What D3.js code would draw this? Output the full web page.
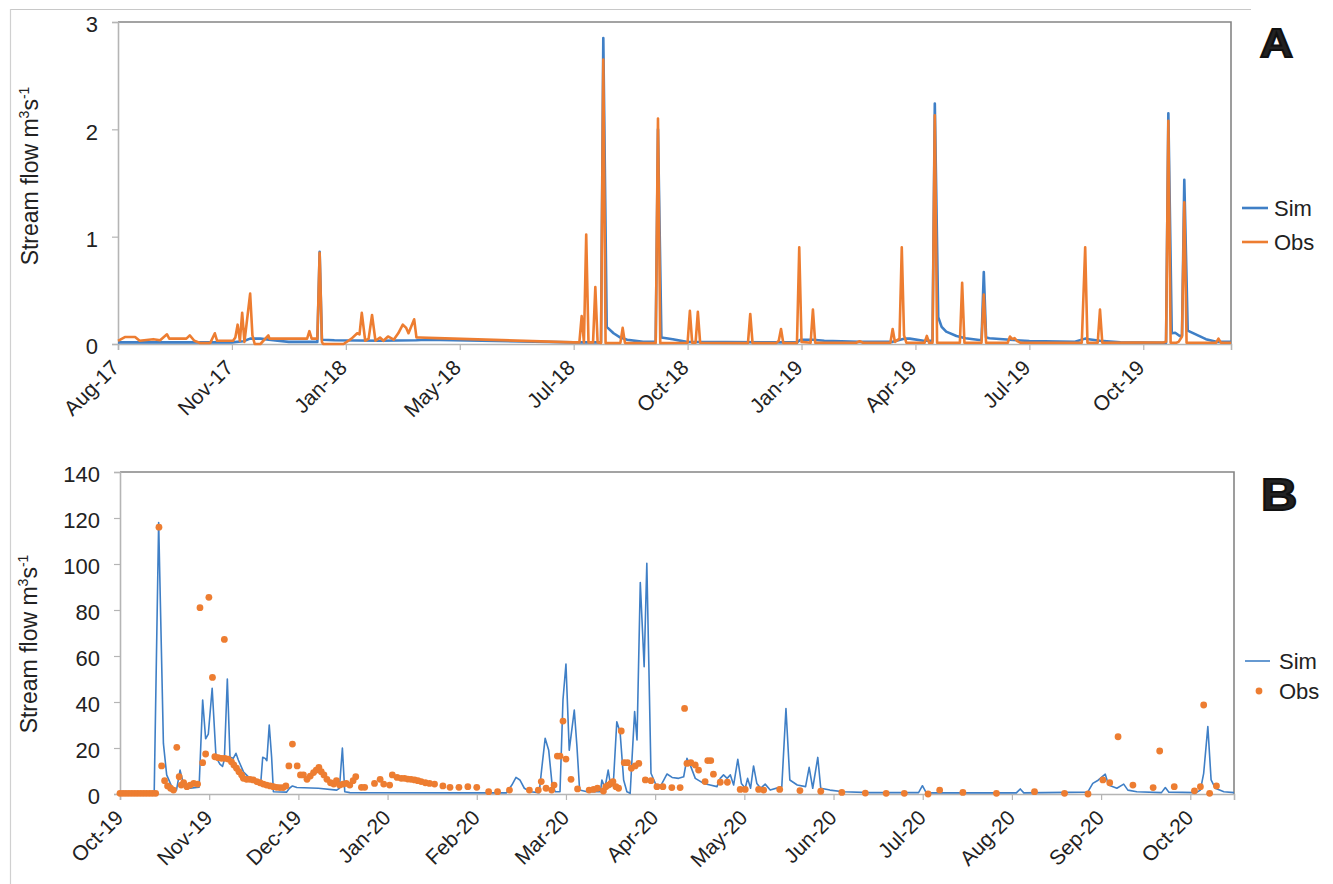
<!DOCTYPE html>
<html>
<head>
<meta charset="utf-8">
<script src="https://cdn.jsdelivr.net/npm/d3@7/dist/d3.min.js"></script>
<style>
  html, body { margin: 0; padding: 0; background: #fff; }
  svg { display: block; }
  text { font-family: "Liberation Sans", Arial, Helvetica, sans-serif; fill: #222; }
</style>
</head>
<body>
<svg id="chart" width="1333" height="884"></svg>
<script>
// ---------------- DATA ----------------
// Panel A: category axis (index positions), tick label every 100 positions
const aTickLabels = ["Aug-17","Nov-17","Jan-18","May-18","Jul-18","Oct-18","Jan-19","Apr-19","Jul-19","Oct-19"];
const aTickPos = [0,100,200,300,400,500,600,700,800,900];
const aDomainMax = 977;
const aYTicks = [0,1,2,3];

const simAPos = [0,100,110,116,125,140,150,175,177,179,190,230,262,270,400,424,426,429,435,441,447,461,472,474,477,487,499,596,599,610,620,650,680,690,695,707,715,717,720,723,727,736,744,756,758,760,762,765,786,800,840,849,852,862,880,920,922,925,928,932,934,936,939,947,955,964,977];
const simAVal = [0.015,0.015,0.025,0.05,0.05,0.03,0.02,0.02,0.86,0.04,0.035,0.03,0.035,0.04,0.015,0.015,2.85,0.16,0.10,0.06,0.04,0.02,0.02,2.0,0.06,0.045,0.02,0.015,0.04,0.04,0.03,0.02,0.02,0.05,0.05,0.03,0.03,2.24,0.25,0.16,0.115,0.075,0.053,0.037,0.04,0.67,0.06,0.053,0.037,0.028,0.02,0.05,0.045,0.03,0.015,0.012,2.15,0.10,0.105,0.075,0.08,1.53,0.125,0.085,0.045,0.02,0.02];

const obsAPos = [0,6,15,19,31,37,43,45,49,60,63,67,72,81,85,87,92,101,103,105,107,109,111,116,118,120,125,132,133,166,168,170,175,177,179,180,198,205,210,212,214,217,220,223,226,230,233,237,242,246,250,253,255,260,262,265,280,400,405,407,409,411,413,417,419,421,424,426,428,441,443,445,472,474,476,500,502,504,507,509,511,553,555,557,578,580,582,584,596,598,600,608,610,612,648,651,654,678,680,682,686,688,690,692,708,710,712,715,717,719,739,741,743,758,760,762,781,783,785,787,789,792,846,849,851,860,862,864,918,920,922,924,929,931,934,936,938,964,966,968,977];
const obsAVal = [0.03,0.065,0.065,0.03,0.045,0.035,0.09,0.05,0.05,0.05,0.08,0.03,0.01,0.01,0.10,0.03,0.03,0.03,0.06,0.18,0.03,0.29,0.02,0.47,0.08,0.0,0.0,0.08,0.05,0.05,0.12,0.05,0.05,0.85,0.02,0.0,0.0,0.05,0.10,0.09,0.29,0.03,0.05,0.27,0.03,0.06,0.03,0.07,0.04,0.10,0.18,0.15,0.10,0.23,0.06,0.06,0.055,0.015,0.015,0.26,0.015,1.02,0.015,0.015,0.53,0.015,0.01,2.65,0.01,0.01,0.15,0.01,0.01,2.1,0.01,0.012,0.31,0.012,0.012,0.30,0.012,0.01,0.28,0.01,0.01,0.03,0.14,0.01,0.01,0.90,0.02,0.012,0.32,0.012,0.012,0.025,0.012,0.012,0.14,0.02,0.05,0.90,0.08,0.012,0.012,0.075,0.012,0.012,2.13,0.012,0.012,0.57,0.012,0.012,0.46,0.012,0.012,0.07,0.045,0.055,0.03,0.012,0.012,0.90,0.012,0.012,0.32,0.012,0.015,0.02,2.08,0.012,0.012,0.02,0.07,1.32,0.012,0.012,0.05,0.012,0.012];

// Panel B: monthly category axis, 30 positions per month
const bTickLabels = ["Oct-19","Nov-19","Dec-19","Jan-20","Feb-20","Mar-20","Apr-20","May-20","Jun-20","Jul-20","Aug-20","Sep-20","Oct-20"];
const bTickPos = [0,30,60,90,120,150,180,210,240,270,300,330,360];
const bDomainMax = 374.7;
const bYTicks = [0,20,40,60,80,100,120,140];

const simBPos = [0,11.5,13,14.6,15.7,17.4,19,20.2,21.3,23.6,26.6,27.8,28.8,29.7,31,32.3,33.6,34.5,35.1,36.1,37,38.1,39,39.8,41.5,43.7,46,47.3,48,48.8,49.4,50.2,51,51.6,56,57,58,59.5,66.7,72.9,73.8,74.8,75.6,77.3,130,131.8,133.2,134.5,136,138,141,141.8,143,144.2,145.3,146.4,148,149,150,151.1,152.8,153.7,154.6,157.1,161.6,162.1,163.1,164.2,165.1,166,167.1,168.2,169.4,170.5,171.6,172.2,173.1,173.9,175,176.3,177.2,178.6,180.3,182,184,185.7,187.9,189.6,190.7,192,193.5,196.3,198.5,200.8,201.9,203,204.2,205.3,206.4,207.8,209,210.3,211.1,212.1,213.1,214.2,215.5,217,218.7,222.6,224,225.3,227.8,230.6,231.8,233,234.7,235.7,238.8,243.3,252.3,268.6,269.9,271.2,301.5,302.8,304,325.5,327.2,329,331.4,332.5,335.3,337.6,339,342,350.3,351.6,352.8,362,363.4,364.5,365.9,367,368.4,371.3,374.7];
const simBVal = [0.3,0.3,118,22,8.3,3.2,1.7,10.4,4.6,2.5,3,40.9,24,26,46,16,13,12,15,50,16,15.5,17.7,14.8,9.7,6.8,4.6,4,16,15.5,14.5,30,16,1,0.8,2.5,3.5,2.8,2.5,1.7,2.5,20,1,0.6,0.5,3.9,7.2,6.1,2.5,1,0.6,10.4,24.2,19,4.6,1,1,41,56.5,19,36.5,20.6,1.7,1,1,6.1,2.5,10.4,3.2,6.1,31.4,27,6.1,1,0.3,14.8,35.8,23.5,91.9,55.3,100.3,9,3.9,3.9,8.7,7.2,6.8,7.5,15.5,11.9,6.8,4.6,3.9,3.2,6.8,8.3,6.8,8.3,3.9,15.1,4.6,2.5,6.8,2.5,12.2,4.6,2.5,4.3,1.7,3.2,37.2,6.1,3.9,3.2,11.6,2.5,15.9,2.5,1.7,1,0.6,0.6,3.6,0.5,0.5,2.2,0.5,0.8,4.6,6,8.6,3.9,2.5,4.3,1.7,1,0.6,2.8,0.8,0.6,1.7,9,29.3,6.1,2.5,1,0.6];

const obsBPos = [0,1,2,3,4,5,6,7,8,9,10,11,12,13.1,14,15,16,17,18,19.1,19.9,20.6,21.4,22.5,23.6,24.8,26.1,26.9,27.8,28.8,29.9,31.1,31.9,33,34.2,35.1,35.3,36.4,37.5,38.3,39.2,40,40.9,41.5,42.6,43.7,44.8,46,47.1,48.2,49.3,50.5,51.6,52.7,53.8,54.9,55.8,56.8,58,59.6,60.7,61.7,62.9,64,65.1,66,66.9,67.7,68.6,69.6,70.8,71.9,72.8,73.9,75,76.1,77.3,78.4,79.3,81.2,82.3,85.6,87.5,88.7,90.7,91.6,93.2,94.6,95.7,96.8,97.9,99.1,100.2,101.3,102.7,104.1,105.8,108.6,111,114,117,120,124,127,131,137.7,140.7,141.7,143.3,145.2,146,147.1,148,149,150,151.7,153.9,157.8,159.3,160.6,162.6,163.4,164.3,165.1,165.8,166.8,167.7,168.6,169.6,170.7,172,173.3,174.5,176.7,178.6,180.6,182.6,185.6,188.4,189.9,190.7,192,193.5,194.6,196.8,197.7,198.7,199.6,201.9,204.3,208.6,210.3,214.8,216.5,221.9,228.7,235.7,242.8,250.7,257.7,263.8,271.8,275.7,283.5,294.8,307.6,317.7,325.6,330.6,332.9,335.7,340.7,347.5,349.7,354.6,361.4,363.4,364.5,366.5,368.8];
const obsBVal = [0.3,0.3,0.3,0.3,0.3,0.3,0.3,0.3,0.3,0.3,0.3,0.3,0.3,116,12.2,5.8,3.5,2.5,1.7,20.3,7.5,3.9,4.9,3.2,3.9,4.6,4.3,81,13.6,17.4,85.5,50.7,16.2,15.8,15.5,67.2,15.5,15.2,14,12.6,11.2,9.7,8.3,6.8,6.4,6.4,6.1,5.4,4.9,4.3,3.9,3.5,3.2,2.9,2.8,2.8,3.5,12.2,21.7,12.2,8.3,8.3,6.4,7.8,9.3,10.4,11.6,9.7,8.3,6.4,4.9,4.3,5.8,3.9,4.3,4.6,3.9,5.8,7.5,2.9,2.9,4.6,6.4,4.3,3.9,8.3,7.2,6.8,6.8,6.5,6.4,6.1,5.8,5.4,4.9,4.6,4.3,3.5,2.9,2.9,3.2,2.9,1,1,1.7,1.7,1.7,5.4,2.5,1.7,3.9,16.5,16.5,31.7,15.2,6.4,2.2,1.7,2,2.5,1.3,3.2,3.9,4.6,5.4,3.2,2.5,27.4,13.6,13.6,11.2,12.2,13.3,6.1,5.8,3.2,3.2,2.8,2.8,37.2,13.3,13.6,12.6,10.4,5.4,14.5,14.5,8.6,5.1,5.1,2,2,2,1.7,2,1.5,1.2,0.7,0.4,0.3,0.3,0,1.7,0.7,0.3,1,0.3,0,6.1,4.9,24.9,3.9,2.8,18.7,3.2,1.4,3.2,38.7,0.3,3.5];

const seriesNames = ["Sim", "Obs"];
const yLabel = "Stream flow m";

// ---------------- STYLE ----------------
const simColor = "#3f7fc6";
const obsColor = "#ed7d31";
const font = "'Liberation Sans', Arial, sans-serif";

const svg = d3.select("#chart");

// outer frame (top and left)
svg.append("line").attr("x1", 10).attr("x2", 1251).attr("y1", 9.5).attr("y2", 9.5)
  .attr("stroke", "#c8c8c8").attr("stroke-width", 1.2);
svg.append("line").attr("x1", 10.5).attr("x2", 10.5).attr("y1", 9).attr("y2", 884)
  .attr("stroke", "#d0d0d0").attr("stroke-width", 1.2);

function zip(p, v) { return p.map((d, i) => ({ x: d, y: v[i] })); }

function panel(cfg) {
  const x = d3.scaleLinear().domain([0, cfg.xMax]).range([cfg.left, cfg.right]);
  const y = d3.scaleLinear().domain([0, cfg.yMax]).range([cfg.bottom, cfg.top]);
  const g = svg.append("g");

  // border top/right
  g.append("path")
    .attr("d", `M${cfg.left},${cfg.top}H${cfg.right}V${cfg.bottom}`)
    .attr("fill", "none").attr("stroke", "#858585").attr("stroke-width", 1.6);

  // y axis
  const ya = g.append("g").attr("transform", `translate(${cfg.left},0)`)
    .call(d3.axisLeft(y).tickValues(cfg.yTicks).tickSize(6).tickPadding(14).tickFormat(d3.format("d")));
  ya.select(".domain").attr("stroke", "#b5b5b5").attr("stroke-width", 1.6);
  ya.selectAll(".tick line").attr("stroke", "#b5b5b5").attr("stroke-width", 1.2);
  ya.selectAll(".tick text").attr("font-family", font).attr("font-size", 22).attr("fill", "#222")
    .attr("dy", "0.45em");

  // x axis
  const xa = g.append("g").attr("transform", `translate(0,${cfg.bottom})`)
    .call(d3.axisBottom(x).tickValues(cfg.xTicks).tickSize(6)
      .tickFormat((d, i) => cfg.xLabels[i]));
  xa.select(".domain").attr("stroke", "#b5b5b5").attr("stroke-width", 1.6);
  xa.selectAll(".tick line").attr("stroke", "#b5b5b5").attr("stroke-width", 1.2);
  xa.selectAll(".tick text")
    .attr("font-family", font).attr("font-size", 21).attr("fill", "#222")
    .attr("text-anchor", "end").attr("y", 0).attr("dy", 0)
    .attr("transform", `translate(${cfg.lxOff},${cfg.lyOff}) rotate(-45)`);

  // y label
  const lab = g.append("text")
    .attr("transform", `translate(${cfg.labX},${cfg.labY}) rotate(-90)`)
    .attr("text-anchor", "middle").attr("font-family", font).attr("font-size", 23).attr("fill", "#222");
  lab.append("tspan").text(yLabel);
  lab.append("tspan").text("3").attr("font-size", 14).attr("dy", -9);
  lab.append("tspan").text("s").attr("dy", 9);
  lab.append("tspan").text("-1").attr("font-size", 14).attr("dy", -9);

  // panel letter (heavy, wide)
  g.append("text")
    .attr("transform", `translate(${cfg.letterX},${cfg.letterY}) scale(1.14,1)`)
    .attr("font-family", "'DejaVu Sans', sans-serif").attr("font-weight", 900)
    .attr("font-size", cfg.letterSize).attr("fill", "#111").attr("stroke", "#111").attr("stroke-width", 2)
    .text(cfg.letter);

  return { x, y, g };
}

// ---------------- PANEL A ----------------
const A = panel({
  left: 118, right: 1231, top: 22, bottom: 344,
  xMax: aDomainMax, yMax: 3, yTicks: aYTicks,
  xTicks: aTickPos, xLabels: aTickLabels, lxOff: 2, lyOff: 25,
  labX: 38, labY: 176, letter: "A", letterX: 1260, letterY: 57, letterSize: 40
});
const lineA = d3.line().x(d => A.x(d.x)).y(d => A.y(d.y));
A.g.append("path").datum(zip(simAPos, simAVal)).attr("d", lineA)
  .attr("fill", "none").attr("stroke", simColor).attr("stroke-width", 2.6).attr("stroke-linejoin", "round");
A.g.append("path").datum(zip(obsAPos, obsAVal)).attr("d", lineA)
  .attr("fill", "none").attr("stroke", obsColor).attr("stroke-width", 2.6).attr("stroke-linejoin", "round");

// legend A
const legA = A.g.append("g");
[[simColor, 208], [obsColor, 242]].forEach(([c, yy], i) => {
  legA.append("line").attr("x1", 1242).attr("x2", 1268).attr("y1", yy).attr("y2", yy)
    .attr("stroke", c).attr("stroke-width", 2.6);
  legA.append("text").attr("x", 1274).attr("y", yy + 8).attr("font-family", font)
    .attr("font-size", 22).attr("fill", "#222").text(seriesNames[i]);
});

// ---------------- PANEL B ----------------
const B = panel({
  left: 120, right: 1234, top: 472, bottom: 794,
  xMax: bDomainMax, yMax: 140, yTicks: bYTicks,
  xTicks: bTickPos, xLabels: bTickLabels, lxOff: 4, lyOff: 25,
  labX: 37, labY: 644, letter: "B", letterX: 1261, letterY: 510, letterSize: 44
});
const lineB = d3.line().x(d => B.x(d.x)).y(d => B.y(d.y));
B.g.append("path").datum(zip(simBPos, simBVal)).attr("d", lineB)
  .attr("fill", "none").attr("stroke", simColor).attr("stroke-width", 1.6).attr("stroke-linejoin", "round");
B.g.append("g").selectAll("circle").data(zip(obsBPos, obsBVal)).join("circle")
  .attr("cx", d => B.x(d.x)).attr("cy", d => B.y(d.y)).attr("r", 3.4).attr("fill", obsColor);

// legend B
const legB = B.g.append("g");
legB.append("line").attr("x1", 1245).attr("x2", 1270).attr("y1", 661).attr("y2", 661)
  .attr("stroke", simColor).attr("stroke-width", 1.6);
legB.append("text").attr("x", 1279).attr("y", 669).attr("font-family", font)
  .attr("font-size", 22).attr("fill", "#222").text(seriesNames[0]);
legB.append("circle").attr("cx", 1259).attr("cy", 691).attr("r", 3.4).attr("fill", obsColor);
legB.append("text").attr("x", 1279).attr("y", 699).attr("font-family", font)
  .attr("font-size", 22).attr("fill", "#222").text(seriesNames[1]);
</script>
</body>
</html>
